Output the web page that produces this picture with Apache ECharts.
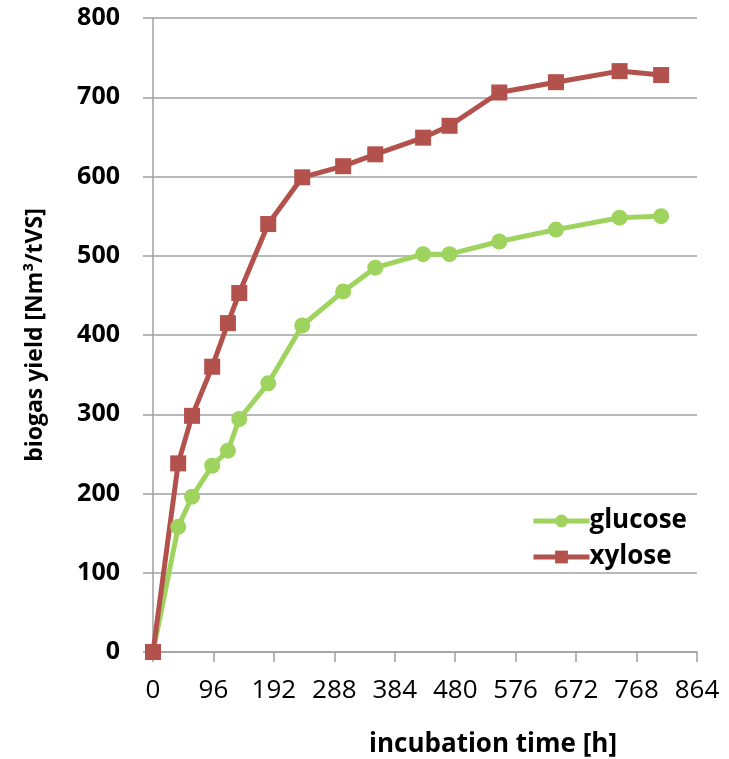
<!DOCTYPE html>
<html>
<head>
<meta charset="utf-8">
<script src="https://cdn.jsdelivr.net/npm/echarts@6/dist/echarts.min.js"></script>
<style>html,body{margin:0;padding:0;background:#fff}#c{width:729px;height:759px}</style>
</head>
<body>
<div id="c"></div>
<script>
const hours = [0, 40, 62, 94, 119, 137, 183, 237, 302, 353, 429, 471, 550, 640, 741, 807];
const glucose = [0, 158, 196, 235, 254, 294, 339, 412, 455, 485, 502, 502, 518, 533, 548, 550];
const xylose = [0, 238, 298, 360, 415, 453, 540, 599, 613, 628, 649, 664, 706, 719, 733, 728];
const xTicks = [0, 96, 192, 288, 384, 480, 576, 672, 768, 864];
const yTicks = [0, 100, 200, 300, 400, 500, 600, 700, 800];
const seriesNames = ['glucose', 'xylose'];
const xName = 'incubation time [h]';
const yName = 'biogas yield [Nm³/tVS]';

const chart = echarts.init(document.getElementById('c'));
const font = '"Open Sans", "Liberation Sans", sans-serif';
const pair = (xs, ys) => xs.map((x, i) => [x, ys[i]]);
const green = '#9ed45e', red = '#b3514c', gray = '#a0a0a0';
chart.setOption({
  animation: false,
  backgroundColor: '#fff',
  grid: { left: 153, right: 32, top: 18, bottom: 107 },
  xAxis: {
    type: 'value', min: xTicks[0], max: xTicks[xTicks.length - 1], interval: 96,
    axisLine: { show: true, lineStyle: { color: gray, width: 1.5 } },
    axisTick: { show: true, length: 10, lineStyle: { color: gray, width: 1.5 } },
    splitLine: { show: false },
    axisLabel: { color: '#000', fontSize: 26, fontFamily: font, margin: 26 }
  },
  yAxis: {
    type: 'value', min: yTicks[0], max: yTicks[yTicks.length - 1], interval: 100,
    axisLine: { show: true, lineStyle: { color: gray, width: 1.5 } },
    axisTick: { show: true, length: 10, lineStyle: { color: gray, width: 1.5 } },
    splitLine: { show: true, lineStyle: { color: gray, width: 1.5 } },
    axisLabel: { color: '#000', fontSize: 25, fontWeight: 'bold', fontFamily: font, margin: 33 },
    name: yName, nameLocation: 'middle', nameGap: 106, nameRotate: 90,
    nameTextStyle: { color: '#000', fontSize: 23, fontWeight: 'bold', fontFamily: font }
  },
  legend: {
    orient: 'vertical', left: 526, top: 503, itemWidth: 56, itemHeight: 16, itemGap: 10,
    data: seriesNames,
    lineStyle: { width: 5 },
    textStyle: { color: '#000', fontSize: 26, fontWeight: 'bold', fontFamily: font, padding: [0, 0, 0, -5] }
  },
  graphic: [{
    type: 'text', x: 493, y: 745,
    style: { text: xName, fill: '#000', font: 'bold 26px ' + font, textAlign: 'center', textVerticalAlign: 'middle' }
  }],
  series: [
    {
      name: seriesNames[0], type: 'line', data: pair(hours, glucose),
      symbol: 'circle', symbolSize: 16,
      lineStyle: { color: green, width: 5 }, itemStyle: { color: green }
    },
    {
      name: seriesNames[1], type: 'line', data: pair(hours, xylose),
      symbol: 'rect', symbolSize: 16,
      lineStyle: { color: red, width: 5 }, itemStyle: { color: red }
    }
  ]
});
</script>
</body>
</html>
